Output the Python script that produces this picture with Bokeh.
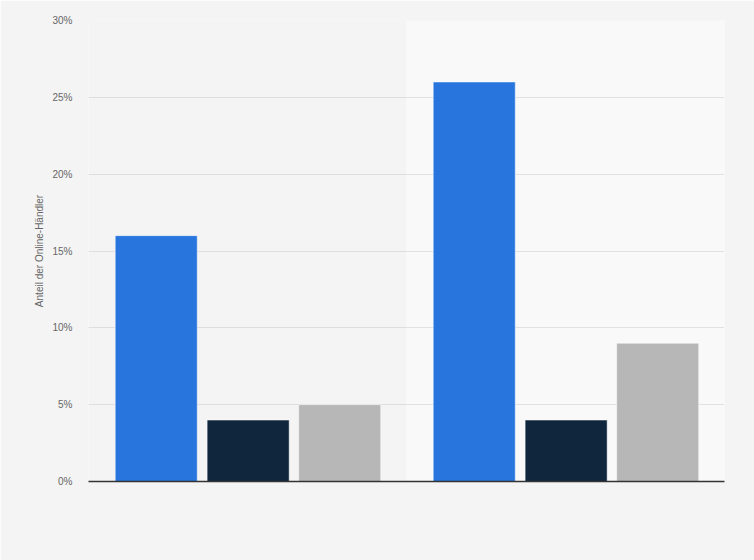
from bokeh.plotting import figure
from bokeh.models import ColumnDataSource, BoxAnnotation, FixedTicker, CustomJSTickFormatter
from bokeh.transform import dodge
from bokeh.embed import file_html
from bokeh.resources import INLINE

categories = ["Gruppe 1", "Gruppe 2"]
series_1 = [16, 26]
series_2 = [4, 4]
series_3 = [5, 9]
y_ticks = [0, 5, 10, 15, 20, 25, 30]
y_label = "Anteil der Online-Händler"

src = ColumnDataSource(dict(cat=categories, s1=series_1, s2=series_2, s3=series_3))

BG = "#f4f4f4"
p = figure(width=754, height=560, x_range=categories, y_range=(0, 30),
           output_backend="svg", toolbar_location=None,
           background_fill_color=BG, border_fill_color=BG,
           min_border_left=88, min_border_right=30, min_border_top=20, min_border_bottom=79)
p.x_range.range_padding = 0
p.outline_line_color = None

band = BoxAnnotation(left=1, right=2, fill_color="#f9f9f9", fill_alpha=1, line_color=None, level="image")
p.add_layout(band)

w = 0.258
off = 0.287
p.vbar(x=dodge("cat", -off, range=p.x_range), top="s1", width=w, source=src,
       fill_color="#2876dd", line_color="#ffffff", line_alpha=0.5, line_width=1)
p.vbar(x=dodge("cat", 0.002, range=p.x_range), top="s2", width=w, source=src,
       fill_color="#0f263d", line_color="#ffffff", line_alpha=0.5, line_width=1)
p.vbar(x=dodge("cat", off + 0.003, range=p.x_range), top="s3", width=w, source=src,
       fill_color="#b7b7b7", line_color="#ffffff", line_alpha=0.5, line_width=1)

p.xgrid.grid_line_color = None
p.ygrid.grid_line_color = "#c8c8c8"
p.ygrid.grid_line_dash = "1 1"
p.ygrid.ticker = FixedTicker(ticks=y_ticks)

p.yaxis.ticker = FixedTicker(ticks=y_ticks)
p.yaxis.formatter = CustomJSTickFormatter(code="return tick + '%';")
p.yaxis.axis_line_color = None
p.yaxis.major_tick_line_color = None
p.yaxis.minor_tick_line_color = None
p.yaxis.major_label_text_font = "Liberation Sans"
p.yaxis.major_label_text_font_size = "10px"
p.yaxis.major_label_text_color = "#666666"
p.yaxis.major_label_standoff = 10
p.yaxis.axis_label = y_label
p.yaxis.axis_label_text_font = "Liberation Sans"
p.yaxis.axis_label_text_font_size = "10px"
p.yaxis.axis_label_text_font_style = "normal"
p.yaxis.axis_label_text_color = "#666666"
p.yaxis.axis_label_standoff = 4

p.xaxis.axis_line_color = "#333333"
p.xaxis.axis_line_width = 1.5
p.xaxis.major_tick_line_color = None
p.xaxis.minor_tick_line_color = None
p.xaxis.major_label_text_font_size = "0px"
p.xaxis.major_label_text_color = None

html = file_html(p, INLINE)
html = html.replace("<body>", '<body style="margin:0;background:#f4f4f4;">', 1)
open("out.html", "w").write(html)
